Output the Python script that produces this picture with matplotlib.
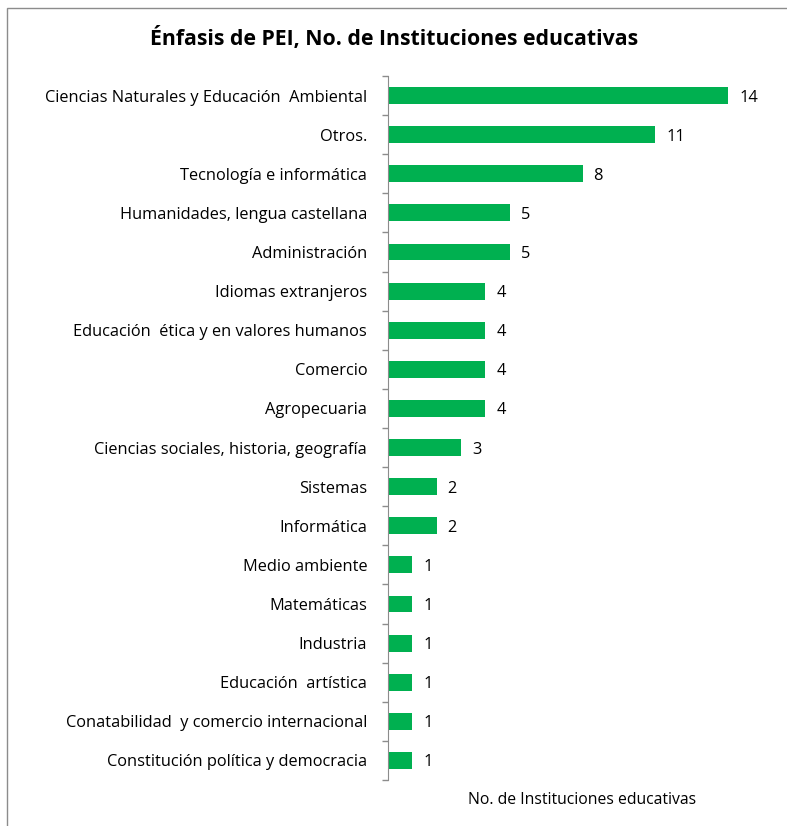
import numpy as np
import matplotlib
matplotlib.use("Agg")
import matplotlib.pyplot as plt
from matplotlib.patches import Rectangle

plt.rcParams.update({"font.family": ["Open Sans", "DejaVu Sans"]})

CATEGORIES = [
    "Ciencias Naturales y Educación  Ambiental",
    "Otros.",
    "Tecnología e informática",
    "Humanidades, lengua castellana",
    "Administración",
    "Idiomas extranjeros",
    "Educación  ética y en valores humanos",
    "Comercio",
    "Agropecuaria",
    "Ciencias sociales, historia, geografía",
    "Sistemas",
    "Informática",
    "Medio ambiente",
    "Matemáticas",
    "Industria",
    "Educación  artística",
    "Conatabilidad  y comercio internacional",
    "Constitución política y democracia",
]
VALUES = [14, 11, 8, 5, 5, 4, 4, 4, 4, 3, 2, 2, 1, 1, 1, 1, 1, 1]
GREEN = "#00B050"

W, H = 787, 826
fig = plt.figure(figsize=(W / 100, H / 100), dpi=100)

# chart frame
fig.patches.append(Rectangle((7 / W, -0.01), 1.0, 1 - 8 / H + 0.01, transform=fig.transFigure,
                             fill=False, edgecolor="#8c8c8c", linewidth=1.0))

ax = fig.add_axes([388 / W, 1 - 780 / H, 389 / W, 704 / H])
n = len(CATEGORIES)
y = np.arange(n)
ax.barh(y, VALUES, height=0.43, color=GREEN)
ax.set_ylim(n - 0.5, -0.5)
ax.set_xlim(0, 16)

ax.set_yticks(y)
ax.set_yticklabels(CATEGORIES, fontsize=11.8, color="black")
ax.set_yticks(np.arange(-0.5, n, 1.0), minor=True)
ax.tick_params(axis="y", which="major", length=0, pad=15)
ax.tick_params(axis="y", which="minor", length=4, color="#8c8c8c", width=1)
ax.set_xticks([])
for s in ["top", "right", "bottom"]:
    ax.spines[s].set_visible(False)
ax.spines["left"].set_color("#8c8c8c")

for yi, v in zip(y, VALUES):
    ax.text(v + 0.45, yi + 0.05, f"{v}", va="center", ha="left", fontsize=11.8, color="black")

ax.set_xlabel("No. de Instituciones educativas", fontsize=11.3, labelpad=9, color="black")
fig.text(394 / W, 1 - 38 / H, "Énfasis de PEI, No. de Instituciones educativas",
         ha="center", va="center", fontsize=15.3, fontweight="bold", color="black")

fig.savefig("out.png", dpi=100)
